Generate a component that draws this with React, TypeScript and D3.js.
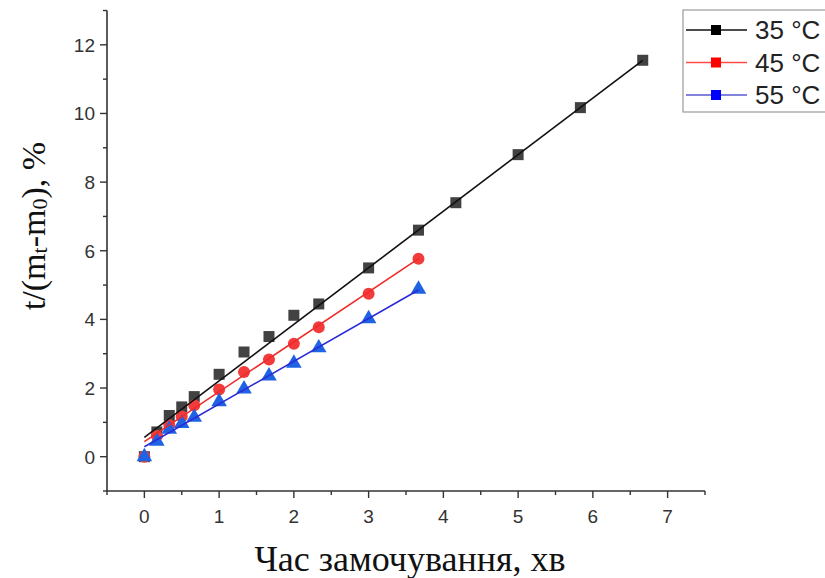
import React from 'react';
import * as d3 from 'd3';

// час замочування, хв
const time35 = [0, 0.167, 0.333, 0.5, 0.667, 1, 1.333, 1.667, 2, 2.333, 3, 3.667, 4.167, 5, 5.833, 6.667];
const values35 = [0, 0.72, 1.2, 1.45, 1.75, 2.4, 3.05, 3.5, 4.12, 4.45, 5.5, 6.6, 7.4, 8.8, 10.17, 11.55];

const time45 = [0, 0.167, 0.333, 0.5, 0.667, 1, 1.333, 1.667, 2, 2.333, 3, 3.667];
const values45 = [0, 0.6, 0.92, 1.17, 1.5, 1.96, 2.47, 2.83, 3.29, 3.77, 4.75, 5.77];

const time55 = [0, 0.167, 0.333, 0.5, 0.667, 1, 1.333, 1.667, 2, 2.333, 3, 3.667];
const values55 = [0, 0.45, 0.8, 0.97, 1.15, 1.6, 1.97, 2.35, 2.72, 3.17, 4.02, 4.88];

// linear fit lines
const fitIntercepts = [0.56, 0.44, 0.29];
const fitSlopes = [1.648, 1.453, 1.245];
const fitEnds = [6.667, 3.667, 3.667];

const legendLabels = ['35 °C', '45 °C', '55 °C'];
const xTicks = [0, 1, 2, 3, 4, 5, 6, 7];
const yTicks = [0, 2, 4, 6, 8, 10, 12];

const series = [
  { time: time35, values: values35, marker: 'square', fill: '#424242', line: '#111', legendLine: '#111', legendMark: '#000' },
  { time: time45, values: values45, marker: 'circle', fill: '#f23b3b', line: '#ef2a2a', legendLine: '#ff4a4a', legendMark: '#ff0000' },
  { time: time55, values: values55, marker: 'triangle', fill: '#1f62e4', line: '#2a2ad6', legendLine: '#5a5ad0', legendMark: '#0000ff' },
];

const App = () => {
  const width = 825;
  const height = 578;

  const x = d3.scaleLinear().domain([-0.5, 7.5]).range([107, 705]);
  const y = d3.scaleLinear().domain([-1, 13]).range([491, 10.5]);

  const xMinor = d3.range(-0.5, 7.51, 1);
  const yMinor = d3.range(-1, 13.01, 2);

  const triangle = d3.symbol().type(d3.symbolTriangle).size(105)();

  const marker = (kind, cx, cy, fill, key) => {
    if (kind === 'square') {
      return <rect key={key} x={cx - 5.5} y={cy - 5.5} width={11} height={11} fill={fill} />;
    }
    if (kind === 'circle') {
      return <circle key={key} cx={cx} cy={cy} r={6} fill={fill} />;
    }
    return <path key={key} d={triangle} transform={`translate(${cx},${cy})`} fill={fill} />;
  };

  const axisColor = '#333';
  const tickFont = 'Liberation Sans, Arial, sans-serif';

  return (
    <svg width={width} height={height} style={{ position: 'absolute', left: 0, top: 0, background: '#fff' }}>
      {/* points */}
      {series.map((s, si) =>
        <g key={`pts${si}`}>
          {s.time.map((t, i) => marker(s.marker, x(t), y(s.values[i]), s.fill, i))}
        </g>
      )}

      {/* fit lines */}
      {series.map((s, si) => {
        const line = d3.line().x(d => x(d)).y(d => y(fitIntercepts[si] + fitSlopes[si] * d));
        return <path key={`fit${si}`} d={line([0, fitEnds[si]])} stroke={s.line} strokeWidth={1.6} fill="none" />;
      })}

      {/* axes */}
      <line x1={x(-0.5)} x2={x(-0.5)} y1={y(13)} y2={y(-1)} stroke={axisColor} strokeWidth={1.6} />
      <line x1={x(-0.5)} x2={x(7.5)} y1={y(-1)} y2={y(-1)} stroke={axisColor} strokeWidth={1.6} />

      {yMinor.map(v => (
        <line key={`ym${v}`} x1={x(-0.5)} x2={x(-0.5) - 4} y1={y(v)} y2={y(v)} stroke={axisColor} strokeWidth={1.4} />
      ))}
      {yTicks.map(v => (
        <g key={`yt${v}`}>
          <line x1={x(-0.5)} x2={x(-0.5) - 7} y1={y(v)} y2={y(v)} stroke={axisColor} strokeWidth={1.4} />
          <text x={x(-0.5) - 12} y={y(v)} dy="0.36em" textAnchor="end" fontFamily={tickFont} fontSize={19} fill="#333">{v}</text>
        </g>
      ))}

      {xMinor.map(v => (
        <line key={`xm${v}`} x1={x(v)} x2={x(v)} y1={y(-1)} y2={y(-1) + 4} stroke={axisColor} strokeWidth={1.4} />
      ))}
      {xTicks.map(v => (
        <g key={`xt${v}`}>
          <line x1={x(v)} x2={x(v)} y1={y(-1)} y2={y(-1) + 7} stroke={axisColor} strokeWidth={1.4} />
          <text x={x(v)} y={y(-1) + 32} textAnchor="middle" fontFamily={tickFont} fontSize={19} fill="#333">{v}</text>
        </g>
      ))}

      {/* axis titles */}
      <text x={410} y={571} textAnchor="middle" fontFamily="Liberation Serif, Times New Roman, serif" fontSize={36} fill="#111">
        Час замочування, хв
      </text>
      <text transform="translate(45,226) rotate(-90)" textAnchor="middle" fontFamily="Liberation Serif, Times New Roman, serif" fontSize={34} fill="#111">
        t/(m<tspan fontSize={22} dy={2}>t</tspan><tspan dy={-2}>-m</tspan><tspan fontSize={22} dy={2}>0</tspan><tspan dy={-2}>), %</tspan>
      </text>

      {/* legend */}
      <rect x={683} y={10} width={150} height={102} fill="#fff" stroke="#999" strokeWidth={1.2} />
      {series.map((s, i) => {
        const ly = 30 + i * 32.5;
        return (
          <g key={`lg${i}`}>
            <line x1={686} x2={747} y1={ly} y2={ly} stroke={s.legendLine} strokeWidth={1.4} />
            <rect x={711} y={ly - 5} width={10} height={10} fill={s.legendMark} />
            <text x={755} y={ly} dy="0.36em" fontFamily={tickFont} fontSize={26} fill="#222">{legendLabels[i]}</text>
          </g>
        );
      })}
    </svg>
  );
};

export default App;
